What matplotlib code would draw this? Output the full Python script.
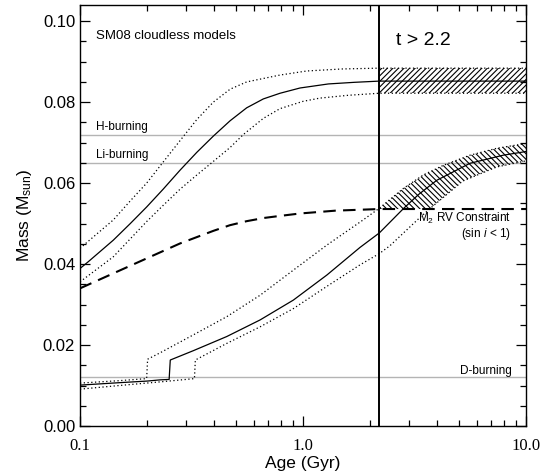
import numpy as np
import matplotlib
matplotlib.use("Agg")
import matplotlib.pyplot as plt
from matplotlib.ticker import FixedLocator, NullFormatter, MultipleLocator

plt.rcParams['font.family'] = ['Liberation Sans', 'DejaVu Sans']
plt.rcParams['hatch.linewidth'] = 0.8
plt.rcParams['mathtext.fontset'] = 'custom'
plt.rcParams['mathtext.rm'] = 'Liberation Sans'
plt.rcParams['mathtext.it'] = 'Liberation Sans:italic'

# ---------------- data ----------------
# Upper model track: ages (Gyr) and masses (Msun)
up_age = [0.1, 0.109, 0.141, 0.168, 0.199, 0.236, 0.281, 0.334, 0.396, 0.471, 0.559, 0.664, 0.789, 0.97, 1.3, 1.7, 2.2, 10.0]
up_mid = [0.0389, 0.0406, 0.0459, 0.0500, 0.0541, 0.0585, 0.0632, 0.0676, 0.0716, 0.0754, 0.0786, 0.0808, 0.0822, 0.0835, 0.0845, 0.0849, 0.0852, 0.0852]
up_hi_age = [0.1, 0.141, 0.168, 0.199, 0.236, 0.281, 0.334, 0.396, 0.471, 0.559, 0.789, 1.04, 1.5, 2.2, 10.0]
up_hi = [0.0439, 0.0509, 0.0556, 0.0600, 0.0652, 0.0705, 0.0757, 0.0800, 0.0832, 0.0850, 0.0867, 0.0877, 0.0882, 0.0884, 0.0884]
up_lo_age = [0.1, 0.141, 0.199, 0.236, 0.281, 0.334, 0.389, 0.471, 0.54, 0.664, 0.789, 1.0, 1.19, 1.6, 2.2, 10.0]
up_lo = [0.0356, 0.0418, 0.0505, 0.0545, 0.0585, 0.0620, 0.0650, 0.0688, 0.0720, 0.0760, 0.0784, 0.0802, 0.0810, 0.0817, 0.0822, 0.0822]

# Lower (companion) model track
lo_age = [0.1, 0.15, 0.2, 0.229, 0.251, 0.254, 0.322, 0.455, 0.642, 0.905, 1.28, 1.80, 2.2, 2.45, 2.82, 3.3, 3.98, 5.61, 7.91, 10.0]
lo_mid = [0.0101, 0.0107, 0.0111, 0.0114, 0.0115, 0.0163, 0.0186, 0.0221, 0.0262, 0.0311, 0.0373, 0.0441, 0.0477, 0.0503, 0.0537, 0.0572, 0.0607, 0.0649, 0.0669, 0.0678]
lo_hi_age = [0.1, 0.15, 0.199, 0.201, 0.229, 0.322, 0.455, 0.642, 0.905, 1.28, 1.86, 2.2, 2.29, 2.82, 3.46, 4.26, 5.61, 7.39, 10.0]
lo_hi = [0.0106, 0.0112, 0.0117, 0.0165, 0.0181, 0.0225, 0.0270, 0.0323, 0.0385, 0.0447, 0.0509, 0.0538, 0.0546, 0.0587, 0.0620, 0.0644, 0.0669, 0.0686, 0.0698]
lo_lo_age = [0.1, 0.15, 0.229, 0.326, 0.329, 0.455, 0.642, 0.905, 1.28, 1.8, 2.2, 2.45, 3.27, 3.71, 5.2, 7.4, 10.0]
lo_lo = [0.0091, 0.0100, 0.0109, 0.0117, 0.0163, 0.0204, 0.0245, 0.0290, 0.0345, 0.0398, 0.0426, 0.0445, 0.0510, 0.0537, 0.0605, 0.0640, 0.0655]

# RV constraint (sin i < 1), dashed
rv_age = [0.1, 0.141, 0.199, 0.281, 0.396, 0.47, 0.559, 0.67, 0.789, 0.97, 1.4, 2.2, 10.0]
rv_mass = [0.0340, 0.0377, 0.0414, 0.0451, 0.0482, 0.0496, 0.0506, 0.0514, 0.0519, 0.0525, 0.0532, 0.0536, 0.0536]

# burning limits
burn_names = ['H-burning', 'Li-burning', 'D-burning']
burn_mass = [0.072, 0.065, 0.012]

age_limit = 2.2
x_ticks = [0.1, 1.0, 10.0]
x_ticklabels = ['0.1', '1.0', '10.0']
y_ticks = [0.00, 0.02, 0.04, 0.06, 0.08, 0.10]
y_ticklabels = ['0.00', '0.02', '0.04', '0.06', '0.08', '0.10']

# ---------------- figure ----------------
fig = plt.figure(figsize=(5.45, 4.76), dpi=100)
ax = fig.add_axes([80/545, 50/476, 446/545, 421/476])
ax.set_xscale('log')
ax.set_xlim(0.1, 10.0)
ax.set_ylim(0.0, 0.104)

gray = '#b4b4b4'
for m in burn_mass:
    ax.axhline(m, color=gray, lw=1.0, zorder=1)

dot = dict(color='black', lw=0.9, linestyle=(0, (1, 2)))
ax.plot(up_age, up_mid, color='black', lw=0.9)
ax.plot(up_hi_age, up_hi, **dot)
ax.plot(up_lo_age, up_lo, **dot)
ax.plot(lo_age, lo_mid, color='black', lw=0.9)
ax.plot(lo_hi_age, lo_hi, **dot)
ax.plot(lo_lo_age, lo_lo, **dot)
ax.plot(rv_age, rv_mass, color='black', lw=1.5, linestyle=(0, (6, 3.5)))

# hatched allowed regions for t > 2.2
grid = np.logspace(np.log10(age_limit), 1.0, 300)
lg = np.log10(grid)
u_hi = np.interp(lg, np.log10(up_hi_age), up_hi)
u_lo = np.interp(lg, np.log10(up_lo_age), up_lo)
ax.fill_between(grid, u_lo, u_hi, facecolor='none', edgecolor='black', hatch='//////', lw=0)
l_hi = np.interp(lg, np.log10(lo_hi_age), lo_hi)
l_lo = np.interp(lg, np.log10(lo_lo_age), lo_lo)
rv = np.interp(lg, np.log10(rv_age), rv_mass)
bottom = np.maximum(l_lo, rv)
ax.fill_between(grid, bottom, l_hi, where=l_hi >= bottom, facecolor='none',
                edgecolor='black', hatch='\\\\\\\\\\\\', lw=0)

ax.axvline(age_limit, color='black', lw=1.4)

# texts
ax.text(0.118, 0.0963, 'SM08 cloudless models', fontsize=9.5, va='center', ha='left')
ax.text(2.6, 0.0953, 't > 2.2', fontsize=14, va='center', ha='left')
ax.text(0.118, 0.0739, burn_names[0], fontsize=8.5, va='center', ha='left')
ax.text(0.118, 0.0669, burn_names[1], fontsize=8.5, va='center', ha='left')
ax.text(8.6, 0.0137, burn_names[2], fontsize=8.5, va='center', ha='right')
ax.text(8.6, 0.0512, r'M$_2$ RV Constraint', fontsize=8.5, va='center', ha='right')
ax.text(8.6, 0.0474, r'(sin $\it{i}$ < 1)', fontsize=8.5, va='center', ha='right')

# axes styling
ax.set_xticks(x_ticks)
ax.set_xticklabels(x_ticklabels, family=['Liberation Serif', 'DejaVu Serif'], fontsize=12)
ax.xaxis.set_minor_locator(FixedLocator([a * b for b in (0.1, 1.0) for a in range(2, 10)]))
ax.xaxis.set_minor_formatter(NullFormatter())
ax.set_yticks(y_ticks)
ax.set_yticklabels(y_ticklabels, fontsize=12)
ax.yaxis.set_minor_locator(MultipleLocator(0.005))
ax.tick_params(which='both', direction='in', top=True, right=True, width=0.9)
ax.tick_params(which='major', length=7)
ax.tick_params(which='minor', length=4)
ax.tick_params(axis='x', pad=9)
for s in ax.spines.values():
    s.set_linewidth(1.0)

ax.set_xlabel('Age (Gyr)', fontsize=12.5, labelpad=1)
ax.set_ylabel(r'Mass (M$_{\rm sun}$)', fontsize=12.5, labelpad=6)

fig.savefig('out.png', dpi=100)
